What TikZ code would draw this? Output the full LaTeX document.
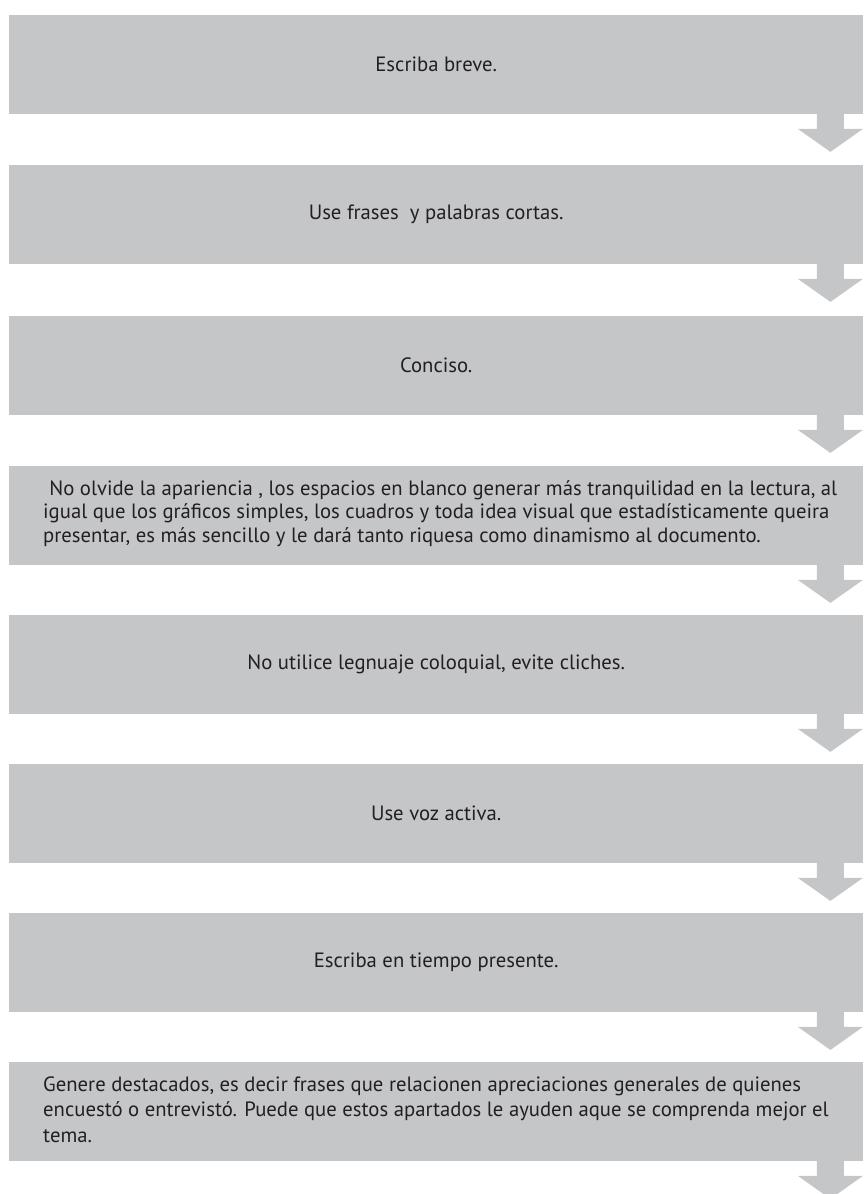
\documentclass[tikz,border=0pt]{standalone}
\usepackage{fontspec}
\setmainfont{PT Sans}
\usetikzlibrary{calc}
\definecolor{boxgray}{RGB}{197,198,200}
\definecolor{txt}{RGB}{35,31,32}
\begin{document}
\begin{tikzpicture}[x=1pt,y=-1pt,
  stepbox/.style={fill=boxgray, minimum width=854pt, minimum height=98.5pt,
    inner sep=0pt, anchor=north west, text=txt,
    font=\fontsize{20.7}{24}\selectfont},
  para/.style={inner sep=0pt, anchor=west, align=left, text=txt},
  flowarrow/.style={fill=boxgray}]
\useasboundingbox (0,0) rectangle (863,1194);
\clip (0,0) rectangle (863,1194);

\node[stepbox] (b1) at (9,15)   {Escriba breve.};
\node[stepbox] (b2) at (9,165)  {Use frases \ y palabras cortas.};
\node[stepbox] (b3) at (9,316)  {Conciso.};
\node[stepbox] (b4) at (9,466)  {};
\node[stepbox] (b5) at (9,615)  {No utilice legnuaje coloquial, evite cliches.};
\node[stepbox] (b6) at (9,764)  {Use voz activa.};
\node[stepbox] (b7) at (9,913)  {Escriba en tiempo presente.};
\node[stepbox] (b8) at (9,1062) {};

\node[para, font=\fontsize{20.7}{23.5}\selectfont] (t4) at ($(b4.west)+(34,-2)$)
  {\hspace*{0.3em}No olvide la apariencia , los espacios en blanco generar más tranquilidad en la lectura, al\\
   igual que los gráficos simples, los cuadros y toda idea visual que estadísticamente queira\\
   presentar, es más sencillo y le dará tanto riquesa como dinamismo al documento.};
\node[para, font=\fontsize{20.7}{25.5}\selectfont] (t8) at ($(b8.west)+(34,-2)$)
  {Genere destacados, es decir frases que relacionen apreciaciones generales de quienes\\
   encuestó o entrevistó. Puede que estos apartados le ayuden aque se comprenda mejor el\\
   tema.};

\foreach \b in {b1,b2,b3,b4,b5,b6,b7,b8}{
  \fill[flowarrow] (\b.south east) ++(-46.5,-0.5) -- ++(27,0) -- ++(0,15.5)
    -- ++(19,0) -- ++(-32.5,23) -- ++(-32.5,-23) -- ++(19,0) -- cycle;
}
\end{tikzpicture}
\end{document}
